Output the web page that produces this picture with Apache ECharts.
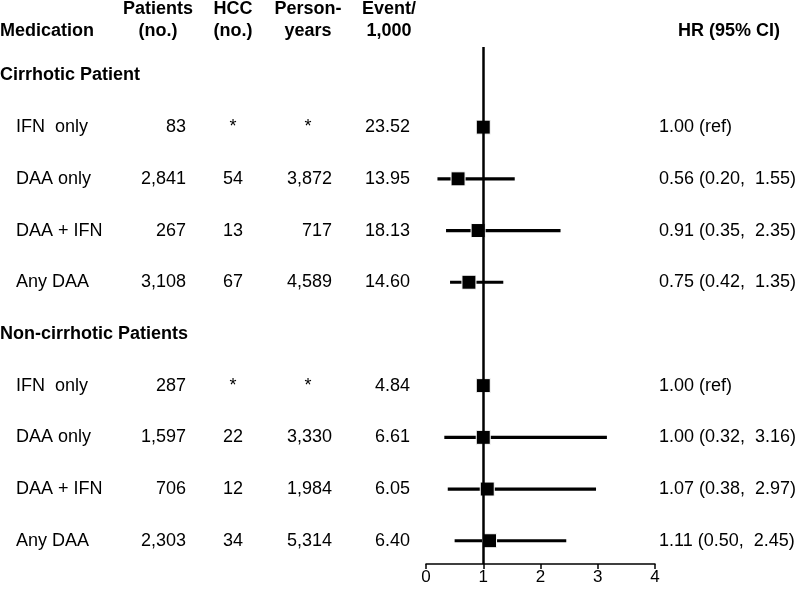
<!DOCTYPE html>
<html>
<head>
<meta charset="utf-8">
<script src="https://cdn.jsdelivr.net/npm/echarts@6/dist/echarts.min.js"></script>
<style>
  html, body { margin: 0; padding: 0; background: #fff; }
  #chart { width: 800px; height: 589px; }
</style>
</head>
<body>
<div id="chart"></div>
<script>
// table + forest plot data
const groups = ["Cirrhotic Patient", "Non-cirrhotic Patients"];
const medications = ["IFN  only", "DAA only", "DAA + IFN", "Any DAA",
                     "IFN  only", "DAA only", "DAA + IFN", "Any DAA"];
const patients = ["83", "2,841", "267", "3,108", "287", "1,597", "706", "2,303"];
const hcc = ["*", "54", "13", "67", "*", "22", "12", "34"];
const personYears = ["*", "3,872", "717", "4,589", "*", "3,330", "1,984", "5,314"];
const events = ["23.52", "13.95", "18.13", "14.60", "4.84", "6.61", "6.05", "6.40"];
const hr = [1.00, 0.56, 0.91, 0.75, 1.00, 1.00, 1.07, 1.11];
const lower = [null, 0.20, 0.35, 0.42, null, 0.32, 0.38, 0.50];
const upper = [null, 1.55, 2.35, 1.35, null, 3.16, 2.97, 2.45];

const FONT = '18px "Liberation Sans", Arial, sans-serif';
const BOLD = 'bold 18px "Liberation Sans", Arial, sans-serif';

// row 0 = first group header, row 5 = second group header
const rowOf = i => (i < 4 ? i + 1 : i + 2);
const hrLabel = i => lower[i] == null
  ? hr[i].toFixed(2) + " (ref)"
  : hr[i].toFixed(2) + " (" + lower[i].toFixed(2) + ",  " + upper[i].toFixed(2) + ")";

const chart = echarts.init(document.getElementById("chart"));

function txt(x, y, text, align, font) {
  return {
    type: "text", x: x, y: y,
    style: { text: text, fill: "#000", font: font || FONT, align: align, verticalAlign: "middle" }
  };
}

const headerCols = [
  [158, "Patients", "(no.)"],
  [233, "HCC", "(no.)"],
  [308, "Person-", "years"],
  [389, "Event/", "1,000"]
];
const graphic = [txt(0, 31, "Medication", "left", BOLD), txt(678, 31, "HR (95% CI)", "left", BOLD)];
headerCols.forEach(c => {
  graphic.push(txt(c[0], 9, c[1], "center", BOLD));
  graphic.push(txt(c[0], 31, c[2], "center", BOLD));
});

const option = {
  animation: false,
  backgroundColor: "#fff",
  graphic: graphic,
  grid: { left: 426, right: 145, top: 47, bottom: 25 },
  xAxis: {
    type: "value", min: 0, max: 4, interval: 1,
    axisLine: { onZero: false, lineStyle: { color: "#000", width: 1.5 } },
    axisTick: { show: true, length: 5, lineStyle: { color: "#000", width: 1.5 } },
    axisLabel: { color: "#000", fontSize: 17, margin: 5, fontFamily: "Liberation Sans" },
    splitLine: { show: false }
  },
  yAxis: {
    type: "value", inverse: true, min: -0.55, max: 9.45, show: false
  },
  series: [
    {
      // confidence intervals + reference line at HR = 1
      type: "custom",
      z: 2,
      clip: false,
      data: hr.map((v, i) => [rowOf(i), lower[i], upper[i]]).filter(d => d[1] != null),
      encode: { x: [1, 2], y: 0 },
      renderItem: (params, api) => {
        const a = api.coord([api.value(1), api.value(0)]);
        const b = api.coord([api.value(2), api.value(0)]);
        return {
          type: "line",
          shape: { x1: a[0], y1: a[1], x2: b[0], y2: b[1] },
          style: { stroke: "#000", lineWidth: 3.2 }
        };
      },
      markLine: {
        silent: true,
        symbol: "none",
        label: { show: false },
        lineStyle: { color: "#000", width: 2.5, type: "solid" },
        data: [{ xAxis: 1 }]
      }
    },
    {
      type: "scatter",
      z: 4,
      symbol: "rect",
      symbolSize: 14,
      itemStyle: { color: "#000", borderColor: "#fff", borderWidth: 1, opacity: 1 },
      data: hr.map((v, i) => [v, rowOf(i)])
    },
    {
      // table text per data row
      type: "custom",
      z: 3,
      clip: false,
      data: hr.map((v, i) => [v, rowOf(i), i]),
      renderItem: (params, api) => {
        const i = api.value(2);
        const y = api.coord([0, api.value(1)])[1];
        return {
          type: "group",
          children: [
            txt(16, y, medications[i], "left"),
            txt(186, y, patients[i], "right"),
            txt(233, y, hcc[i], "center"),
            personYears[i] === "*" ? txt(308, y, "*", "center") : txt(332, y, personYears[i], "right"),
            txt(410, y, events[i], "right"),
            txt(659, y, hrLabel(i), "left")
          ]
        };
      }
    },
    {
      // group headers
      type: "custom",
      z: 3,
      clip: false,
      data: groups.map((g, k) => [0, k * 5, k]),
      renderItem: (params, api) => {
        const y = api.coord([0, api.value(1)])[1];
        return txt(0, y, groups[api.value(2)], "left", BOLD);
      }
    }
  ]
};
chart.setOption(option);
</script>
</body>
</html>
